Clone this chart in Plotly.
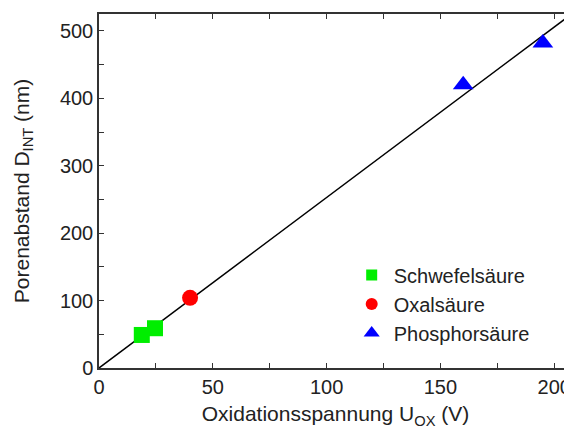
import plotly.graph_objects as go

# Data
schwefel_x = [18.8, 24.6]
schwefel_y = [49, 59]
oxal_x = [40]
oxal_y = [104]
phosphor_x = [160, 195]
phosphor_y = [420, 482]
fit_x = [0, 210]
fit_y = [0, 531]

series_names = ["Schwefelsäure", "Oxalsäure", "Phosphorsäure"]
x_ticks = [0, 50, 100, 150, 200]
y_ticks = [0, 100, 200, 300, 400, 500]

FONT = "Liberation Sans, Arial, sans-serif"

fig = go.Figure()
fig.add_trace(go.Scatter(x=fit_x, y=fit_y, mode="lines",
                         line=dict(color="black", width=1.5), showlegend=False))
fig.add_trace(go.Scatter(x=schwefel_x, y=schwefel_y, mode="markers", showlegend=False,
                         marker=dict(symbol="square", size=16, color="#00ee00")))
fig.add_trace(go.Scatter(x=oxal_x, y=oxal_y, mode="markers", showlegend=False,
                         marker=dict(symbol="circle", size=16, color="#ff0000")))
fig.add_trace(go.Scatter(x=phosphor_x, y=phosphor_y, mode="markers", showlegend=False,
                         marker=dict(symbol="triangle-up", size=18, color="#0000ff")))
# legend entries (smaller symbols as in the reference)
fig.add_trace(go.Scatter(x=[None], y=[None], mode="markers", name=series_names[0],
                         marker=dict(symbol="square", size=11, color="#00ee00")))
fig.add_trace(go.Scatter(x=[None], y=[None], mode="markers", name=series_names[1],
                         marker=dict(symbol="circle", size=12, color="#ff0000")))
fig.add_trace(go.Scatter(x=[None], y=[None], mode="markers", name=series_names[2],
                         marker=dict(symbol="triangle-up", size=14, color="#0000ff")))

axis_common = dict(
    showline=True, linecolor="#333333", linewidth=1.5, mirror="ticks",
    ticks="inside", ticklen=5, tickwidth=1.2, tickcolor="#333333",
    showgrid=False, zeroline=False, automargin=False,
    tickfont=dict(family=FONT, size=20, color="#222222"),
)

fig.update_xaxes(range=[0, 207.8], tickvals=x_ticks,
                 minor=dict(ticks="inside", ticklen=5, tickwidth=1.2, tickcolor="#333333", dtick=25, showgrid=False),
                 title=dict(text="Oxidationsspannung U<sub>OX</sub> (V)",
                            font=dict(family=FONT, size=21, color="#222222"), standoff=10),
                 **axis_common)
fig.update_yaxes(range=[0, 525], tickvals=y_ticks,
                 minor=dict(ticks="inside", ticklen=5, tickwidth=1.2, tickcolor="#333333", dtick=50, showgrid=False),
                 title=dict(text="Porenabstand D<sub>INT</sub> (nm)",
                            font=dict(family=FONT, size=21, color="#222222"), standoff=25),
                 **axis_common)

# the page body adds an 8 px offset; the figure is sized so the plot area
# lands where the reference shows it
fig.update_layout(
    template="none",
    width=564, height=424,
    margin=dict(l=91, r=0, t=6, b=64),
    plot_bgcolor="white", paper_bgcolor="white",
    font=dict(family=FONT, color="#222222"),
    legend=dict(x=0.53, y=0.318, xanchor="left", yanchor="top",
                bgcolor="rgba(0,0,0,0)", font=dict(family=FONT, size=20, color="#222222"),
                itemwidth=34, tracegroupgap=0),
)

fig.write_html("out.html")
